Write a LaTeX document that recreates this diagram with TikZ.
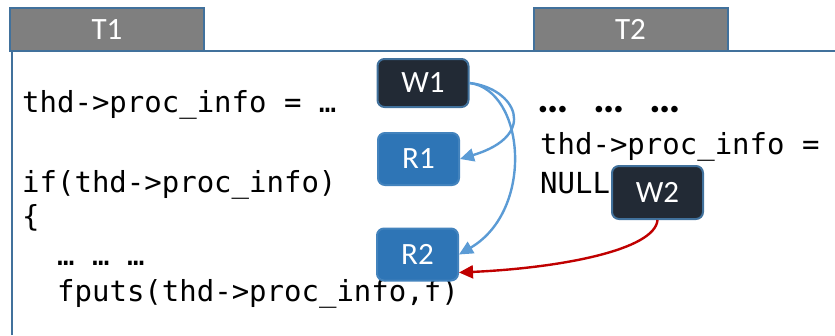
\documentclass[tikz,border=0pt]{standalone}
\usepackage{fontspec}
\setmainfont{Carlito}
\newfontfamily\codefont{DejaVu Sans Mono}
\usetikzlibrary{arrows.meta}

\definecolor{tabgray}{HTML}{7F7F7F}
\definecolor{frameblue}{HTML}{41719C}
\definecolor{wdark}{HTML}{222A35}
\definecolor{rblue}{HTML}{2E75B6}
\definecolor{linkblue}{HTML}{5B9BD5}
\definecolor{linkred}{HTML}{C00000}

\tikzset{
  threadtab/.style={draw=frameblue, line width=2pt, fill=tabgray, text=white, inner sep=0,
    minimum width=194pt, minimum height=43pt, font=\fontsize{31}{35}\selectfont},
  opbox/.style={rounded corners=7pt, line width=2pt, text=white, inner sep=0,
    font=\fontsize{31}{35}\selectfont},
  writebox/.style={opbox, draw=frameblue, fill=wdark, minimum width=91pt, minimum height=48pt},
  readbox/.style={opbox, draw=rblue!90!white, fill=rblue, minimum width=81pt, minimum height=52pt},
  code/.style={anchor=base west, inner sep=0, font=\codefont\fontsize{29}{34}\selectfont},
  link/.style={line width=2.4pt, -{Triangle[length=14pt,width=13pt]}}
}

\begin{document}
\begin{tikzpicture}[x=1pt, y=-1pt]
\useasboundingbox (0,0) rectangle (835,335);
\draw[frameblue, line width=2pt] (12,335) -- (12,51) -- (835,51);
\node[threadtab] (t1) at (107,29.5) {T1};
\node[threadtab] (t2) at (630.5,29.5) {T2};

\node[code] (setinfo) at (22,112) {thd->proc\_info = …};
\node[code] (ifinfo) at (22,192) {if(thd->proc\_info)};
\node[code] (brace) at (22,226) {\{};
\node[code] (skipped) at (57,265) {… … …};
\node[code] (fputs) at (57,301) {fputs(thd->proc\_info,f)};

\node[anchor=base west, inner sep=0, font=\bfseries\fontsize{44}{46}\selectfont] (dots) at (537,112) {…\hskip 25pt…\hskip 25pt…};
\node[code] (clrinfo) at (540,154) {thd->proc\_info =};
\node[code] (null) at (540,193) {NULL};

\node[writebox] (w1) at (423,83) {W1};
\node[readbox] (r1) at (418.5,159) {R1};
\node[readbox] (r2) at (417.5,254.5) {R2};
\node[writebox, minimum height=53pt] (w2) at (657.5,192.5) {W2};

\draw[link, linkblue] (w1.east) .. controls (515,88) and (540,135) .. (r1.east);
\draw[link, linkblue] (w1.east) .. controls (525,90) and (535,210) .. (r2.east);
\draw[link, linkred] (w2.south) .. controls (655,250) and (560,268) .. ([yshift=-18pt]r2.east);
\end{tikzpicture}
\end{document}
